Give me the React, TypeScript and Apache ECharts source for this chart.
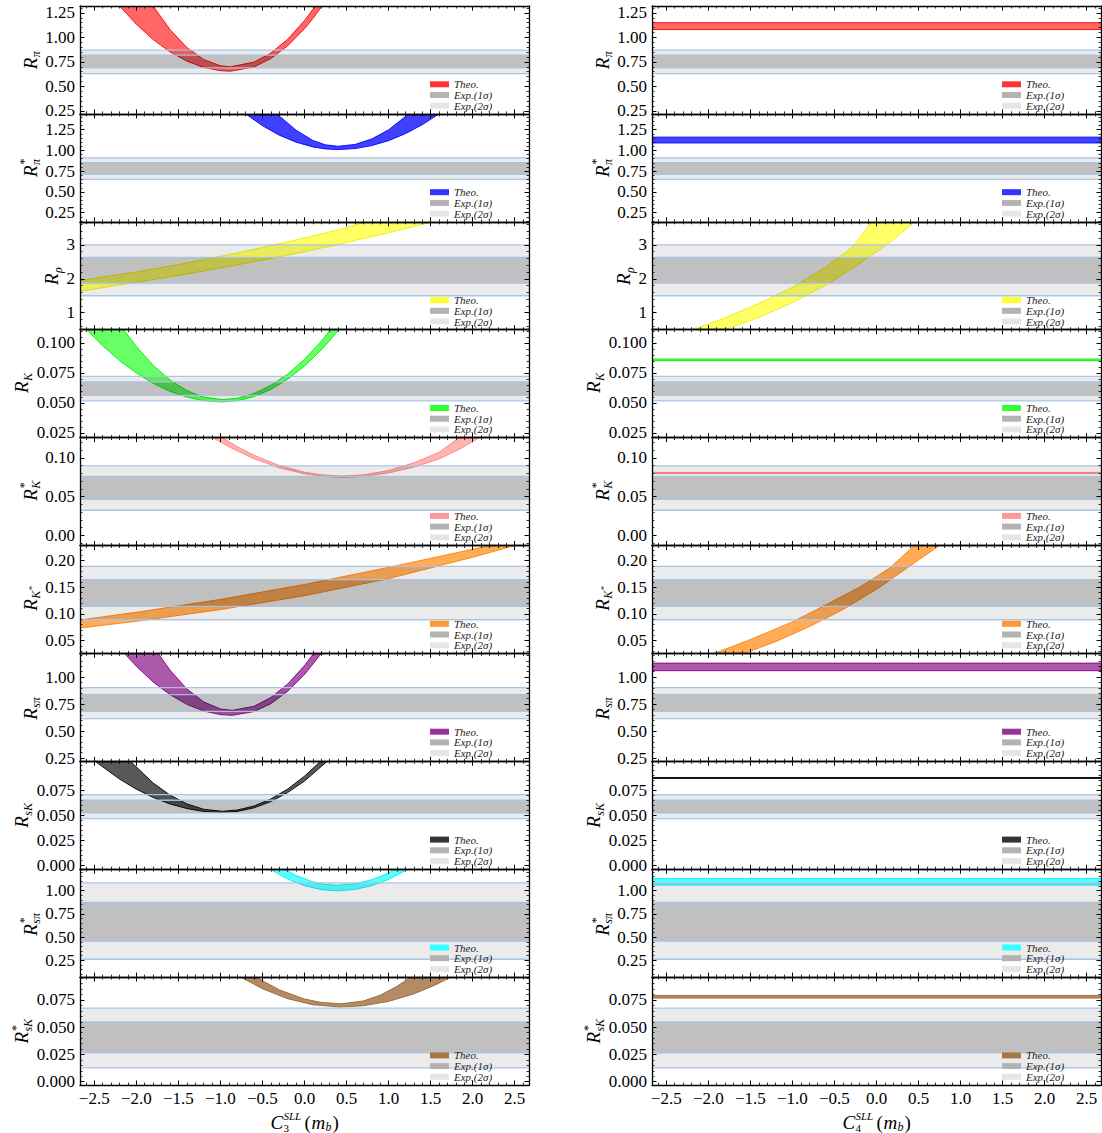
import React, { useEffect, useRef } from "react";
import * as echarts from "echarts";

// ---------------- DATA ----------------
const X_MIN = -2.67;
const X_MAX = 2.67;
const xTickValues = [-2.5, -2, -1.5, -1, -0.5, 0, 0.5, 1, 1.5, 2, 2.5];
const xTickLabels = ["−2.5", "−2.0", "−1.5", "−1.0", "−0.5", "0.0", "0.5", "1.0", "1.5", "2.0", "2.5"];

const obsKeys = ["Rpi", "RpiS", "Rrho", "RK", "RKS", "RKst", "RsPi", "RsK", "RsPiS", "RsKS"];

const yMin = [0.22, 0.14, 0.5, 0.021, -0.013, 0.026, 0.22, -0.004, 0.07, -0.003];
const yMax = [1.32, 1.44, 3.68, 0.111, 0.126, 0.228, 1.22, 0.104, 1.23, 0.096];
const yMinorStep = [0.05, 0.05, 0.2, 0.005, 0.01, 0.01, 0.05, 0.005, 0.05, 0.005];

const yTickValues = [
  [0.25, 0.5, 0.75, 1.0, 1.25],
  [0.25, 0.5, 0.75, 1.0, 1.25],
  [1, 2, 3],
  [0.025, 0.05, 0.075, 0.1],
  [0.0, 0.05, 0.1],
  [0.05, 0.1, 0.15, 0.2],
  [0.25, 0.5, 0.75, 1.0],
  [0.0, 0.025, 0.05, 0.075],
  [0.25, 0.5, 0.75, 1.0],
  [0.0, 0.025, 0.05, 0.075],
];
const yTickLabels = [
  ["0.25", "0.50", "0.75", "1.00", "1.25"],
  ["0.25", "0.50", "0.75", "1.00", "1.25"],
  ["1", "2", "3"],
  ["0.025", "0.050", "0.075", "0.100"],
  ["0.00", "0.05", "0.10"],
  ["0.05", "0.10", "0.15", "0.20"],
  ["0.25", "0.50", "0.75", "1.00"],
  ["0.000", "0.025", "0.050", "0.075"],
  ["0.25", "0.50", "0.75", "1.00"],
  ["0.000", "0.025", "0.050", "0.075"],
];

// experimental bands
const exp2Lo = [0.63, 0.65, 1.5, 0.0516, 0.0324, 0.089, 0.615, 0.0467, 0.262, 0.0127];
const exp2Hi = [0.87, 0.91, 3.0, 0.0721, 0.0897, 0.189, 0.902, 0.0707, 1.083, 0.0676];
const exp1Lo = [0.69, 0.713, 1.87, 0.0563, 0.0465, 0.114, 0.683, 0.0523, 0.456, 0.0265];
const exp1Hi = [0.82, 0.853, 2.63, 0.0674, 0.076, 0.164, 0.838, 0.065, 0.872, 0.0548];

// ---- theory bands vs C3 (left column) ----
const Rpi_C3_lower = [[-2.2, 1.32], [-2.0, 1.134], [-1.8, 0.978], [-1.6, 0.853], [-1.4, 0.758], [-1.2, 0.694], [-1.0, 0.661], [-0.88, 0.655], [-0.6, 0.699], [-0.4, 0.784], [-0.2, 0.914], [0.0, 1.089], [0.1, 1.193], [0.21, 1.32]];
const Rpi_C3_upper = [[-1.8, 1.32], [-1.6, 1.08], [-1.4, 0.898], [-1.2, 0.775], [-1.0, 0.711], [-0.88, 0.7], [-0.6, 0.748], [-0.4, 0.84], [-0.2, 0.981], [0.0, 1.171], [0.13, 1.32]];

const RpiS_C3_lower = [[-0.7, 1.44], [-0.5, 1.298], [-0.3, 1.184], [-0.1, 1.099], [0.1, 1.042], [0.25, 1.018], [0.4, 1.01], [0.6, 1.022], [0.8, 1.058], [1.0, 1.118], [1.2, 1.202], [1.4, 1.31], [1.6, 1.44]];
const RpiS_C3_upper = [[-0.33, 1.44], [-0.1, 1.244], [0.1, 1.12], [0.25, 1.067], [0.4, 1.05], [0.6, 1.072], [0.8, 1.138], [1.0, 1.248], [1.24, 1.44]];

const Rrho_C3_lower = [[-2.7, 1.62], [-2.0, 1.9], [-1.5, 2.1], [-1.0, 2.32], [-0.5, 2.55], [0.0, 2.8], [0.5, 3.07], [1.0, 3.36], [1.52, 3.68]];
const Rrho_C3_upper = [[-2.7, 1.94], [-2.0, 2.2], [-1.5, 2.42], [-1.0, 2.66], [-0.5, 2.92], [0.0, 3.2], [0.4, 3.44], [0.74, 3.68]];

const RK_C3_lower = [[-2.59, 0.111], [-2.4, 0.0976], [-2.2, 0.0853], [-2.0, 0.0749], [-1.8, 0.0663], [-1.6, 0.0596], [-1.4, 0.0548], [-1.2, 0.0518], [-0.98, 0.0507], [-0.8, 0.0517], [-0.6, 0.0552], [-0.4, 0.0612], [-0.2, 0.0697], [0.0, 0.0807], [0.2, 0.0941], [0.41, 0.111]];
const RK_C3_upper = [[-2.15, 0.111], [-2.0, 0.097], [-1.8, 0.0813], [-1.6, 0.0691], [-1.4, 0.0602], [-1.2, 0.0548], [-0.98, 0.0527], [-0.8, 0.0538], [-0.6, 0.0578], [-0.4, 0.0645], [-0.2, 0.074], [0.0, 0.0863], [0.2, 0.1014], [0.31, 0.111]];

const RKS_C3_lower = [[-1.09, 0.126], [-0.9, 0.1142], [-0.6, 0.0987], [-0.3, 0.0871], [0.0, 0.0794], [0.2, 0.0763], [0.45, 0.075], [0.7, 0.076], [1.0, 0.0805], [1.3, 0.088], [1.6, 0.0985], [1.85, 0.1115], [2.08, 0.126]];
const RKS_C3_upper = [[-0.98, 0.126], [-0.8, 0.1143], [-0.6, 0.1032], [-0.3, 0.0901], [0.0, 0.0814], [0.2, 0.078], [0.45, 0.0765], [0.7, 0.078], [1.0, 0.0835], [1.3, 0.0935], [1.6, 0.107], [1.84, 0.126]];

const RKst_C3_lower = [[-2.7, 0.073], [-2.0, 0.086], [-1.0, 0.108], [0.0, 0.134], [1.0, 0.166], [2.0, 0.206], [2.5, 0.228]];
const RKst_C3_upper = [[-2.7, 0.088], [-2.0, 0.103], [-1.0, 0.127], [0.0, 0.155], [1.0, 0.187], [2.0, 0.221], [2.22, 0.228]];

const RsPi_C3_lower = [[-2.14, 1.22], [-2.0, 1.101], [-1.8, 0.955], [-1.6, 0.838], [-1.4, 0.748], [-1.2, 0.686], [-1.0, 0.653], [-0.86, 0.646], [-0.6, 0.681], [-0.4, 0.754], [-0.2, 0.869], [0.0, 1.024], [0.2, 1.22]];
const RsPi_C3_upper = [[-1.74, 1.22], [-1.6, 1.065], [-1.4, 0.891], [-1.2, 0.771], [-1.0, 0.705], [-0.86, 0.692], [-0.6, 0.73], [-0.4, 0.811], [-0.2, 0.936], [0.0, 1.107], [0.11, 1.22]];

const RsK_C3_lower = [[-2.49, 0.104], [-2.2, 0.0862], [-2.0, 0.0761], [-1.8, 0.0678], [-1.6, 0.0613], [-1.4, 0.0567], [-1.2, 0.0538], [-0.98, 0.0527], [-0.8, 0.0538], [-0.6, 0.0574], [-0.4, 0.0637], [-0.2, 0.0727], [0.0, 0.0842], [0.27, 0.104]];
const RsK_C3_upper = [[-2.07, 0.104], [-1.8, 0.0823], [-1.6, 0.0702], [-1.4, 0.0614], [-1.2, 0.056], [-0.98, 0.054], [-0.8, 0.0552], [-0.6, 0.0593], [-0.4, 0.0663], [-0.2, 0.0762], [0.0, 0.0891], [0.19, 0.104]];

const RsPiS_C3_lower = [[-0.41, 1.23], [-0.2, 1.124], [0.0, 1.052], [0.2, 1.01], [0.39, 0.997], [0.6, 1.012], [0.8, 1.052], [1.0, 1.12], [1.23, 1.23]];
const RsPiS_C3_upper = [[-0.24, 1.23], [-0.1, 1.162], [0.1, 1.094], [0.25, 1.066], [0.39, 1.058], [0.6, 1.073], [0.8, 1.117], [1.0, 1.189], [1.09, 1.23]];

const RsKS_C3_lower = [[-0.76, 0.096], [-0.5, 0.0853], [-0.2, 0.0762], [0.1, 0.0706], [0.43, 0.0685], [0.7, 0.0697], [1.0, 0.0737], [1.3, 0.0806], [1.55, 0.0886], [1.74, 0.096]];
const RsKS_C3_upper = [[-0.58, 0.096], [-0.3, 0.0843], [0.0, 0.0759], [0.2, 0.0728], [0.43, 0.0715], [0.7, 0.0741], [0.9, 0.0794], [1.1, 0.0875], [1.26, 0.096]];

// ---- theory bands vs C4 (right column) ----
const Rpi_C4_lower = [[-2.7, 1.08], [2.7, 1.08]];
const Rpi_C4_upper = [[-2.7, 1.15], [2.7, 1.15]];
const RpiS_C4_lower = [[-2.7, 1.09], [2.7, 1.09]];
const RpiS_C4_upper = [[-2.7, 1.16], [2.7, 1.16]];
const Rrho_C4_lower = [[-1.81, 0.5], [-1.4, 0.86], [-1.0, 1.3], [-0.6, 1.82], [-0.2, 2.45], [0.2, 3.15], [0.45, 3.68]];
const Rrho_C4_upper = [[-2.19, 0.5], [-1.8, 0.85], [-1.4, 1.27], [-1.0, 1.75], [-0.6, 2.35], [-0.3, 2.9], [-0.05, 3.68]];
const RK_C4_lower = [[-2.7, 0.0852], [2.7, 0.0852]];
const RK_C4_upper = [[-2.7, 0.0866], [2.7, 0.0866]];
const RKS_C4_lower = [[-2.7, 0.0798], [2.7, 0.0798]];
const RKS_C4_upper = [[-2.7, 0.0812], [2.7, 0.0812]];
const RKst_C4_lower = [[-1.57, 0.026], [-1.2, 0.048], [-0.8, 0.076], [-0.4, 0.108], [0.04, 0.15], [0.4, 0.19], [0.75, 0.228]];
const RKst_C4_upper = [[-1.93, 0.026], [-1.5, 0.052], [-1.0, 0.085], [-0.6, 0.117], [-0.2, 0.15], [0.15, 0.185], [0.45, 0.228]];
const RsPi_C4_lower = [[-2.7, 1.06], [2.7, 1.06]];
const RsPi_C4_upper = [[-2.7, 1.13], [2.7, 1.13]];
const RsK_C4_lower = [[-2.7, 0.0868], [2.7, 0.0868]];
const RsK_C4_upper = [[-2.7, 0.0878], [2.7, 0.0878]];
const RsPiS_C4_lower = [[-2.7, 1.06], [2.7, 1.06]];
const RsPiS_C4_upper = [[-2.7, 1.13], [2.7, 1.13]];
const RsKS_C4_lower = [[-2.7, 0.0768], [2.7, 0.0768]];
const RsKS_C4_upper = [[-2.7, 0.0792], [2.7, 0.0792]];

const bandsC3 = [
  [Rpi_C3_lower, Rpi_C3_upper], [RpiS_C3_lower, RpiS_C3_upper], [Rrho_C3_lower, Rrho_C3_upper],
  [RK_C3_lower, RK_C3_upper], [RKS_C3_lower, RKS_C3_upper], [RKst_C3_lower, RKst_C3_upper],
  [RsPi_C3_lower, RsPi_C3_upper], [RsK_C3_lower, RsK_C3_upper], [RsPiS_C3_lower, RsPiS_C3_upper],
  [RsKS_C3_lower, RsKS_C3_upper],
];
const bandsC4 = [
  [Rpi_C4_lower, Rpi_C4_upper], [RpiS_C4_lower, RpiS_C4_upper], [Rrho_C4_lower, Rrho_C4_upper],
  [RK_C4_lower, RK_C4_upper], [RKS_C4_lower, RKS_C4_upper], [RKst_C4_lower, RKst_C4_upper],
  [RsPi_C4_lower, RsPi_C4_upper], [RsK_C4_lower, RsK_C4_upper], [RsPiS_C4_lower, RsPiS_C4_upper],
  [RsKS_C4_lower, RsKS_C4_upper],
];

// y-axis label pieces: [sup, sub, subSup]
const yLabelParts = [
  ["", "π", ""], ["*", "π", ""], ["", "ρ", ""], ["", "K", ""], ["*", "K", ""],
  ["", "K", "*"], ["", "sπ", ""], ["", "sK", ""], ["*", "sπ", ""], ["*", "sK", ""],
];
const legendTexts = ["Theo.", "Exp.(1σ)", "Exp.(2σ)"];

// ---------------- STYLE ----------------
const FAMILY = "Liberation Serif";
const FONT = "'Liberation Serif', serif";
const bandFill = [
  "rgba(255,0,0,0.6)", "rgba(0,0,255,0.75)", "rgba(255,255,0,0.6)", "rgba(0,255,0,0.6)",
  "rgba(255,128,128,0.6)", "rgba(255,128,0,0.65)", "rgba(128,0,128,0.65)", "rgba(0,0,0,0.65)",
  "rgba(0,255,255,0.65)", "rgba(153,102,51,0.75)",
];
const bandStroke = ["#ff0000", "#0000ff", "#eeee00", "#00ee00", "#ff8080", "#ff8000", "#800080", "#000000", "#00eeee", "#996633"];
const legendTheo = ["#ff3333", "#3333ff", "#ffff33", "#33ff33", "#ff9999", "#ff9933", "#993399", "#333333", "#33ffff", "#aa7744"];

const COL_X = [80, 652];
const PW = 449;
const TOP0 = 6;
const PH = 107.9;
const TICK_FS = 17;

function minorVals(min: number, max: number, step: number, majors: number[]) {
  const out: number[] = [];
  const k0 = Math.ceil(min / step - 1e-9);
  const k1 = Math.floor(max / step + 1e-9);
  for (let k = k0; k <= k1; k++) {
    const v = +(k * step).toFixed(6);
    if (!majors.some((m) => Math.abs(m - v) < step * 1e-3)) out.push(v);
  }
  return out;
}

function labelFor(vals: number[], labels: string[], v: number) {
  for (let i = 0; i < vals.length; i++) if (Math.abs(vals[i] - v) < 1e-9) return labels[i];
  return "";
}

function textW(s: string) {
  let w = 0;
  for (const ch of s) w += ch === "." ? 4.25 : 8.5;
  return w;
}

function buildOption() {
  const grids: any[] = [];
  const xAxes: any[] = [];
  const yAxes: any[] = [];
  const series: any[] = [];
  const graphics: any[] = [];
  const xMinor = minorVals(X_MIN, X_MAX, 0.1, xTickValues);
  const noLine = { show: false, onZero: false };

  for (let col = 0; col < 2; col++) {
    for (let row = 0; row < 10; row++) {
      const p = col * 10 + row;
      const left = COL_X[col];
      const top = TOP0 + row * PH;
      grids.push({ left, top, width: PW, height: PH, containLabel: false, show: false });
      const isBottom = row === 9;
      const lineStyle = { color: "#000", width: 1.3 };
      const baseX = { type: "value", gridIndex: p, min: X_MIN, max: X_MAX, splitLine: { show: false }, z: 10 };
      xAxes.push({
        ...baseX, position: "bottom",
        axisLine: { show: true, onZero: false, lineStyle },
        axisTick: { show: true, inside: true, length: 4.5, customValues: xTickValues, lineStyle: { color: "#000", width: 1 } },
        axisLabel: {
          show: isBottom, customValues: xTickValues, margin: 5,
          formatter: (v: number) => labelFor(xTickValues, xTickLabels, v),
          fontFamily: FAMILY, fontSize: TICK_FS, color: "#000",
        },
      });
      xAxes.push({
        ...baseX, position: "top",
        axisLine: { show: true, onZero: false, lineStyle },
        axisTick: { show: true, inside: true, length: 4.5, customValues: xTickValues, lineStyle: { color: "#000", width: 1 } },
        axisLabel: { show: false },
      });
      xAxes.push({
        ...baseX, position: "bottom",
        axisLine: noLine,
        axisTick: { show: true, inside: true, length: 2.5, customValues: xMinor, lineStyle: { color: "#000", width: 0.8 } },
        axisLabel: { show: false },
      });
      xAxes.push({
        ...baseX, position: "top",
        axisLine: noLine,
        axisTick: { show: true, inside: true, length: 2.5, customValues: xMinor, lineStyle: { color: "#000", width: 0.8 } },
        axisLabel: { show: false },
      });

      const yt = yTickValues[row];
      const yl = yTickLabels[row];
      const yMinorV = minorVals(yMin[row], yMax[row], yMinorStep[row], yt);
      const baseY = { type: "value", gridIndex: p, min: yMin[row], max: yMax[row], splitLine: { show: false }, z: 10 };
      yAxes.push({
        ...baseY, position: "left",
        axisLine: { show: true, onZero: false, lineStyle },
        axisTick: { show: true, inside: true, length: 4.5, customValues: yt, lineStyle: { color: "#000", width: 1 } },
        axisLabel: {
          show: true, customValues: yt, margin: 5,
          formatter: (v: number) => labelFor(yt, yl, v),
          fontFamily: FAMILY, fontSize: TICK_FS, color: "#000",
        },
      });
      yAxes.push({
        ...baseY, position: "right",
        axisLine: { show: true, onZero: false, lineStyle },
        axisTick: { show: true, inside: true, length: 4.5, customValues: yt, lineStyle: { color: "#000", width: 1 } },
        axisLabel: { show: false },
      });
      yAxes.push({
        ...baseY, position: "left",
        axisLine: noLine,
        axisTick: { show: true, inside: true, length: 2.5, customValues: yMinorV, lineStyle: { color: "#000", width: 0.8 } },
        axisLabel: { show: false },
      });
      yAxes.push({
        ...baseY, position: "right",
        axisLine: noLine,
        axisTick: { show: true, inside: true, length: 2.5, customValues: yMinorV, lineStyle: { color: "#000", width: 0.8 } },
        axisLabel: { show: false },
      });

      const [lower, upper] = (col === 0 ? bandsC3 : bandsC4)[row];
      const fill = bandFill[row];
      const stroke = bandStroke[row];
      series.push({
        type: "custom",
        name: obsKeys[row] + (col === 0 ? "_C3" : "_C4"),
        xAxisIndex: p * 4,
        yAxisIndex: p * 4,
        clip: true,
        silent: true,
        z: 2,
        data: [[0, (yMin[row] + yMax[row]) / 2]],
        renderItem: (_params: any, api: any) => {
          const pts = lower.concat(upper.slice().reverse()).map((q: number[]) => api.coord(q));
          return {
            type: "polygon",
            shape: { points: pts },
            style: { fill, stroke, lineWidth: 0.9 },
          };
        },
      });

      const e2l = exp2Lo[row], e2h = exp2Hi[row], e1l = exp1Lo[row], e1h = exp1Hi[row];
      series.push({
        type: "custom",
        name: "exp" + p,
        xAxisIndex: p * 4,
        yAxisIndex: p * 4,
        clip: true,
        silent: true,
        z: 3,
        data: [[0, (yMin[row] + yMax[row]) / 2]],
        renderItem: (params: any, api: any) => {
          const cs = params.coordSys;
          const yy = (v: number) => api.coord([0, v])[1];
          const lineC = "rgba(165,195,228,0.95)";
          const hl = (v: number) => ({
            type: "line",
            shape: { x1: cs.x, y1: yy(v), x2: cs.x + cs.width, y2: yy(v) },
            style: { stroke: lineC, lineWidth: 1.3 },
          });
          return {
            type: "group",
            children: [
              { type: "rect", shape: { x: cs.x, y: yy(e2h), width: cs.width, height: yy(e2l) - yy(e2h) }, style: { fill: "rgba(0,0,0,0.08)" } },
              { type: "rect", shape: { x: cs.x, y: yy(e1h), width: cs.width, height: yy(e1l) - yy(e1h) }, style: { fill: "rgba(0,0,0,0.18)" } },
              hl(e2h), hl(e2l), hl(e1h), hl(e1l),
            ],
          };
        },
      });

      // legend
      const right = left + PW;
      const bottom = top + PH;
      const swatches = [legendTheo[row], "#b3b3b3", "#e6e6e6"];
      for (let i = 0; i < 3; i++) {
        const cy = bottom - 29.6 + i * 10.7;
        graphics.push({
          type: "rect", z: 100,
          shape: { x: right - 99, y: cy - 3, width: 19, height: 6 },
          style: { fill: swatches[i] },
        });
        graphics.push({
          type: "text", z: 100, x: right - 75, y: cy,
          style: {
            text: legendTexts[i], font: "italic 11px " + FONT, fill: "#222",
            textAlign: "left", align: "left", textVerticalAlign: "middle", verticalAlign: "middle",
          },
        });
      }

      // y label (rotated)
      const maxW = Math.max(...yl.map(textW));
      const cx = left - 4 - maxW - 16;
      const cyL = top + PH / 2;
      const [sup, sub, subSup] = yLabelParts[row];
      const subW = sub.length * 6.5 + (subSup ? 4 : 0);
      const totalW = 12 + subW;
      const x0 = -totalW / 2;
      const children: any[] = [
        { type: "text", x: x0, y: 0, style: { text: "R", font: "italic 19px " + FONT, fill: "#000", textAlign: "left", align: "left", textVerticalAlign: "middle", verticalAlign: "middle" } },
        { type: "text", x: x0 + 12, y: 6, style: { text: sub, font: "italic 12px " + FONT, fill: "#000", textAlign: "left", align: "left", textVerticalAlign: "middle", verticalAlign: "middle" } },
      ];
      if (sup) children.push({ type: "text", x: x0 + 12.5, y: -6, style: { text: sup, font: "12px " + FONT, fill: "#000", textAlign: "left", align: "left", textVerticalAlign: "middle", verticalAlign: "middle" } });
      if (subSup) children.push({ type: "text", x: x0 + 20.5, y: 2, style: { text: subSup, font: "9px " + FONT, fill: "#000", textAlign: "left", align: "left", textVerticalAlign: "middle", verticalAlign: "middle" } });
      graphics.push({ type: "group", x: cx, y: cyL, rotation: Math.PI / 2, children, z: 100 });
    }

    // x title
    const tcx = COL_X[col] + PW / 2;
    const ty = 1122;
    const sx = tcx - 34;
    const ts = (t: string, x: number, y: number, font: string) => ({
      type: "text", x, y,
      style: { text: t, font, fill: "#000", textAlign: "left", align: "left", textVerticalAlign: "middle", verticalAlign: "middle" },
    });
    graphics.push({
      type: "group", x: sx, y: ty, z: 100,
      children: [
        ts("C", 0, 0, "italic 19px " + FONT),
        ts("SLL", 13, -6, "italic 11px " + FONT),
        ts(col === 0 ? "3" : "4", 13, 6, "11px " + FONT),
        ts("(", 34, 0, "19px " + FONT),
        ts("m", 41, 0, "italic 19px " + FONT),
        ts("b", 55, 5, "italic 12px " + FONT),
        ts(")", 62, 0, "19px " + FONT),
      ],
    });
  }

  return {
    animation: false,
    backgroundColor: "#ffffff",
    textStyle: { fontFamily: FAMILY },
    grid: grids,
    xAxis: xAxes,
    yAxis: yAxes,
    series,
    graphic: { elements: graphics },
  };
}

export default function App() {
  const ref = useRef<HTMLDivElement>(null);
  useEffect(() => {
    if (!ref.current) return;
    const chart = echarts.init(ref.current, undefined, { renderer: "svg" });
    chart.setOption(buildOption() as any);
    return () => chart.dispose();
  }, []);
  return <div ref={ref} style={{ position: "absolute", left: 0, top: 0, width: 1102, height: 1133 }} />;
}
